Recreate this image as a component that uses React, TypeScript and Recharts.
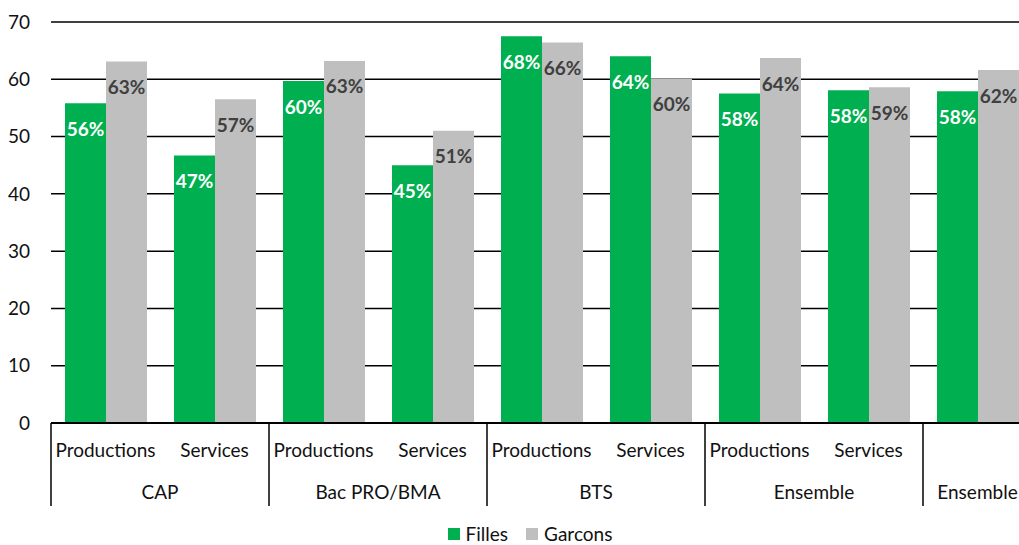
import React from "react";
import { Bar, BarChart, CartesianGrid, LabelList, XAxis, YAxis } from "recharts";

const subLabels = ["Productions", "Services", "Productions", "Services", "Productions", "Services", "Productions", "Services", ""];
const groups = ["CAP", "Bac PRO/BMA", "BTS", "Ensemble", "Ensemble"];
const groupSizes = [2, 2, 2, 2, 1];
const filles = [55.8, 46.7, 59.7, 45.0, 67.5, 64.0, 57.5, 58.1, 57.9];
const garcons = [63.1, 56.5, 63.2, 51.0, 66.4, 60.1, 63.7, 58.6, 61.6];
const yTicks = [0, 10, 20, 30, 40, 50, 60, 70];

const GREEN = "#00B050";
const GREY = "#BFBFBF";
const FONT = "Lato, 'Noto Sans', sans-serif";
const BAND = 109;
const AXIS_Y = 423;

// index of the first category of each group
const groupStarts = groupSizes.map((_, g) => groupSizes.slice(0, g).reduce((a, b) => a + b, 0));

const data = subLabels.map((sub, i) => ({
  key: `c${i}`,
  sub,
  filles: filles[i],
  garcons: garcons[i],
}));

const CategoryTick = (props: any) => {
  const { x, index } = props;
  const g = groupStarts.indexOf(index);
  const left = x - BAND / 2;
  return (
    <g>
      <text x={x} y={AXIS_Y + 34} textAnchor="middle" fontSize={19} fill="#111" fontFamily={FONT}>
        {subLabels[index]}
      </text>
      {g >= 0 && (
        <>
          <line x1={left} x2={left} y1={AXIS_Y} y2={AXIS_Y + 83} stroke="#000" strokeWidth={1.5} />
          <text
            x={left + (groupSizes[g] * BAND) / 2}
            y={AXIS_Y + 76}
            textAnchor="middle"
            fontSize={19}
            fill="#111"
            fontFamily={FONT}
          >
            {groups[g]}
          </text>
        </>
      )}
    </g>
  );
};

const makeLabel = (color: string) => (props: any) => {
  const { x, y, width, value } = props;
  return (
    <text
      x={x + width / 2}
      y={y + 25}
      textAnchor="middle"
      dominantBaseline="central"
      fontSize={19}
      fontWeight="bold"
      fill={color}
      fontFamily={FONT}
    >
      {`${Math.round(value)}%`}
    </text>
  );
};

const LegendBox = () => (
  <div
    style={{
      position: "absolute",
      top: 524,
      left: 0,
      width: 1060,
      display: "flex",
      justifyContent: "center",
      gap: 18,
      fontFamily: FONT,
      fontSize: 19,
      color: "#111",
      lineHeight: "20px",
    }}
  >
    {[
      ["Filles", GREEN],
      ["Garcons", GREY],
    ].map(([name, color]) => (
      <span key={name} style={{ display: "flex", alignItems: "center", gap: 6 }}>
        <span style={{ width: 12, height: 12, background: color, display: "inline-block" }} />
        {name}
      </span>
    ))}
  </div>
);

export default function App() {
  return (
    <div style={{ position: "fixed", top: 0, left: 0, width: 1019, height: 545, overflow: "hidden", background: "#fff" }}>
      <BarChart
        width={1040}
        height={545}
        data={data}
        margin={{ top: 22, right: 8, left: 8, bottom: 22 }}
        barCategoryGap={14}
        barGap={0}
      >
        <CartesianGrid vertical={false} stroke="#000" strokeWidth={1.5} />
        <XAxis
          dataKey="key"
          interval={0}
          height={100}
          tickLine={false}
          axisLine={{ stroke: "#000", strokeWidth: 2 }}
          tick={<CategoryTick />}
        />
        <YAxis
          domain={[0, 70]}
          ticks={yTicks}
          width={43}
          axisLine={false}
          tickLine={false}
          tickSize={0}
          tickMargin={21}
          tick={{ fontSize: 19, fill: "#111", fontFamily: FONT }}
        />
        <Bar dataKey="filles" fill={GREEN} isAnimationActive={false}>
          <LabelList dataKey="filles" content={makeLabel("#fff")} />
        </Bar>
        <Bar dataKey="garcons" fill={GREY} isAnimationActive={false}>
          <LabelList dataKey="garcons" content={makeLabel("#404040")} />
        </Bar>
      </BarChart>
      <LegendBox />
    </div>
  );
}
